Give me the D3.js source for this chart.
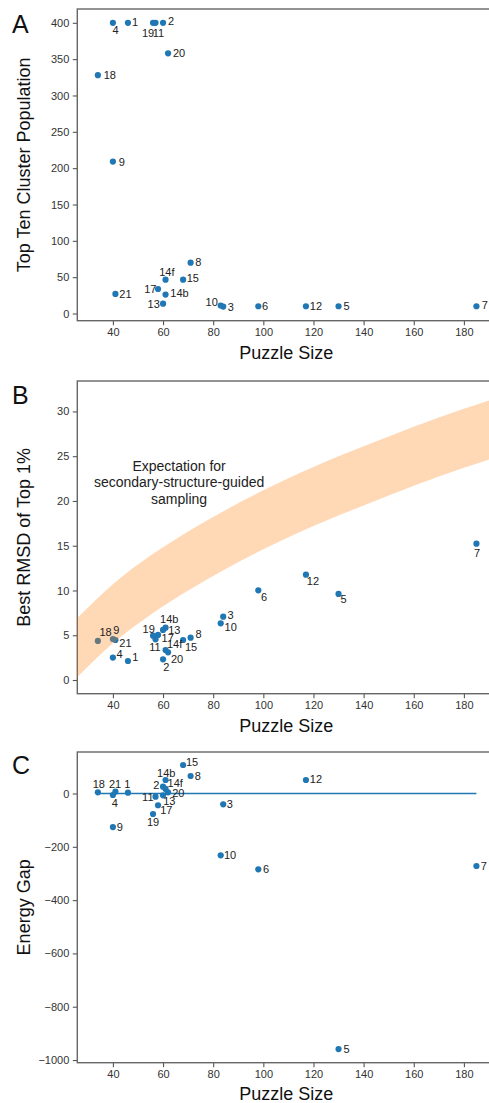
<!DOCTYPE html>
<html>
<head>
<meta charset="utf-8">
<script src="https://cdn.jsdelivr.net/npm/d3@7"></script>
<style>
  body { margin: 0; background: #fff; }
</style>
</head>
<body>
<script>
// puzzle ids and sizes
var puzzles = ['1', '2', '3', '4', '5', '6', '7', '8', '9', '10', '11', '12', '13', '14b', '14f', '15', '17', '18', '19', '20', '21'];
var puzzleSize = [46, 60, 84, 40, 130, 98, 185, 71, 40, 83, 57, 117, 60, 61, 61, 68, 58, 34, 56, 62, 41];

// panel values, same order as puzzles
var topTenPop = [400, 400, 9.5, 400, 10, 10, 10, 70, 209, 11, 400, 10, 13.5, 26, 46.5, 46.5, 33.7, 328, 400, 358, 27];
var bestRmsd = [2.12, 2.31, 7.07, 2.5, 9.61, 10.02, 15.23, 4.73, 4.58, 6.33, 4.54, 11.77, 5.59, 5.85, 3.35, 4.47, 5.03, 4.36, 4.95, 3.09, 4.47];
var energyGap = [3, 25.6, -40.7, -5.6, -958.7, -284.6, -272, 65.7, -126, -232, -11.9, 50.6, -6.9, 50.7, 17, 107, -44, 4.5, -77, 4.4, 6.8];

// expectation band
var bandSize = [25, 40, 55, 70, 85, 100, 120, 140, 160, 180, 194];
var bandUpper = [6.7, 10.7, 13.9, 16.6, 19.0, 21.2, 23.8, 26.1, 28.3, 30.3, 31.6];
var bandLower = [0.1, 4.1, 7.3, 10.0, 12.4, 14.6, 17.2, 19.5, 21.7, 23.7, 25.0];

// ticks
var xTicks = [40, 60, 80, 100, 120, 140, 160, 180];
var yTicksA = [0, 50, 100, 150, 200, 250, 300, 350, 400];
var yTicksB = [0, 5, 10, 15, 20, 25, 30];
var yTicksC = [-1000, -800, -600, -400, -200, 0];

// label placement (center offset from the point, px)
var offsetsA = {'1': [7, -1], '2': [8, -1.3], '3': [7.7, 0.7], '4': [2.7, 7], '5': [8, 0], '6': [6.7, 0], '7': [8.3, -0.7],
    '8': [7.7, -1], '9': [9, 0], '10': [-9, -3.3], '11': [3, 10], '12': [10, 0], '13': [-9.3, 0.7], '14b': [14, -1.7],
    '14f': [1.3, -8], '15': [9.7, -1.3], '17': [-7.7, 0], '18': [12, 0], '19': [-5, 10], '20': [11, -0.7], '21': [10, 0]};
var offsetsB = {'1': [7.3, -3.7], '2': [3.3, 8], '3': [7.3, -1.7], '4': [6.7, -3.7], '5': [5, 5.3], '6': [5.7, 6.7], '7': [0.7, 9],
    '8': [8, -3.7], '9': [3.3, -9], '10': [10, 4], '11': [-0.5, 8], '12': [7, 6.7], '13': [11.3, 0], '14b': [3.7, -8.3],
    '14f': [9, -5.7], '15': [8, 6.7], '17': [9.7, 3.3], '18': [7.7, -8.7], '19': [-4.3, -7], '20': [9, 7], '21': [10, 2.7]};
var offsetsC = {'1': [-0.7, -8.3], '2': [-6.7, -1.3], '3': [6.7, 0], '4': [2, 8.3], '5': [8, 0], '6': [7.7, 0], '7': [7.3, 0],
    '8': [7.3, 0], '9': [7, 0], '10': [9.3, -0.7], '11': [-7.7, 0.7], '12': [10, -1], '13': [6.3, 5.7], '14b': [0.7, -7.3],
    '14f': [9.7, -5.7], '15': [9, -3.3], '17': [8.3, 5.3], '18': [1, -8], '19': [0, 7.7], '20': [10.3, 0.3], '21': [-0.3, -7.3]};

var width = 489;
var height = 1103;
var left = 77.3;
var right = 499;
var blue = '#1f77b4';

var svg = d3.select('body').append('svg')
    .attr('width', width)
    .attr('height', height)
    .style('font-family', '"Liberation Sans", Arial, sans-serif');

var xScale = d3.scaleLinear().domain([25.8, 194]).range([left, right]);

function drawPanel(p) {
    var yScale = d3.scaleLinear().domain(p.yDomain).range(p.yRange);
    var g = svg.append('g');

    var clipId = 'clip' + p.letter;
    svg.append('clipPath').attr('id', clipId)
        .append('rect')
        .attr('x', left).attr('y', p.yRange[1])
        .attr('width', right - left).attr('height', p.yRange[0] - p.yRange[1]);

    var yAxis = g.append('g')
        .attr('transform', 'translate(' + left + ',0)')
        .call(d3.axisLeft(yScale).tickValues(p.yTicks).tickSize(4.5).tickPadding(3.5).tickFormat(d3.format('d')));
    var xAxis = g.append('g')
        .attr('transform', 'translate(0,' + p.yRange[0] + ')')
        .call(d3.axisBottom(xScale).tickValues(xTicks).tickSize(4.5).tickPadding(3).tickFormat(d3.format('d')));
    [yAxis, xAxis].forEach(function (a) {
        a.select('.domain').remove();
        a.selectAll('line').attr('stroke', '#555').attr('stroke-width', 1.1);
        a.selectAll('text').attr('fill', '#333').style('font-size', '11px');
    });

    g.append('rect')
        .attr('x', left).attr('y', p.yRange[1])
        .attr('width', right - left).attr('height', p.yRange[0] - p.yRange[1])
        .attr('fill', 'none').attr('stroke', '#666').attr('stroke-width', 1.4);

    if (p.zeroLine) {
        var ext = d3.extent(puzzleSize);
        g.append('line')
            .attr('x1', xScale(ext[0])).attr('x2', xScale(ext[1]))
            .attr('y1', yScale(0)).attr('y2', yScale(0))
            .attr('stroke', blue).attr('stroke-width', 1.5);
    }

    g.append('g').selectAll('circle')
        .data(puzzles).enter().append('circle')
        .attr('cx', function (d, i) { return xScale(puzzleSize[i]); })
        .attr('cy', function (d, i) { return yScale(p.values[i]); })
        .attr('r', 3.1)
        .attr('fill', blue);

    if (p.band) {
        var area = d3.area()
            .x(function (d) { return xScale(d); })
            .y0(function (d, i) { return yScale(bandLower[i]); })
            .y1(function (d, i) { return yScale(bandUpper[i]); })
            .curve(d3.curveMonotoneX);
        g.append('path')
            .datum(bandSize)
            .attr('clip-path', 'url(#' + clipId + ')')
            .attr('d', area)
            .attr('fill', '#ff7f0e')
            .attr('fill-opacity', 0.3);
    }

    g.append('g').selectAll('text')
        .data(puzzles).enter().append('text')
        .attr('x', function (d, i) { return xScale(puzzleSize[i]) + p.offsets[d][0]; })
        .attr('y', function (d, i) { return yScale(p.values[i]) + p.offsets[d][1]; })
        .attr('dy', '0.36em')
        .attr('text-anchor', 'middle')
        .style('font-size', '11px')
        .attr('fill', '#222')
        .text(function (d) { return d; });

    g.append('text')
        .attr('x', (left + right) / 2 - 2)
        .attr('y', Math.min(p.yRange[0] + 38.3, height - 3.5))
        .attr('text-anchor', 'middle')
        .style('font-size', '18px')
        .attr('fill', '#111')
        .text('Puzzle Size');

    var midY = (p.yRange[0] + p.yRange[1]) / 2;
    g.append('text')
        .attr('transform', 'translate(30,' + midY + ') rotate(-90)')
        .attr('text-anchor', 'middle')
        .style('font-size', '18px')
        .attr('fill', '#111')
        .text(p.yLabel);

    g.append('text')
        .attr('x', 12)
        .attr('y', p.letterY)
        .style('font-size', '25px')
        .attr('fill', '#111')
        .text(p.letter);

    return yScale;
}

drawPanel({letter: 'A', letterY: 33, yDomain: [-9.9, 419], yRange: [320.7, 9], yTicks: yTicksA,
    values: topTenPop, offsets: offsetsA, yLabel: 'Top Ten Cluster Population'});

drawPanel({letter: 'B', letterY: 404, yDomain: [-1.53, 33.4], yRange: [693.7, 381], yTicks: yTicksB,
    values: bestRmsd, offsets: offsetsB, yLabel: 'Best RMSD of Top 1%', band: true});

drawPanel({letter: 'C', letterY: 774, yDomain: [-1010, 155.7], yRange: [1062.7, 752], yTicks: yTicksC,
    values: energyGap, offsets: offsetsC, yLabel: 'Energy Gap', zeroLine: true});

// band annotation
var note = svg.append('text')
    .attr('text-anchor', 'middle')
    .style('font-size', '14px')
    .attr('fill', '#222');
['Expectation for', 'secondary-structure-guided', 'sampling'].forEach(function (s, i) {
    note.append('tspan')
        .attr('x', xScale(66.4))
        .attr('y', 470.5 + i * 16.5)
        .text(s);
});
</script>
</body>
</html>
